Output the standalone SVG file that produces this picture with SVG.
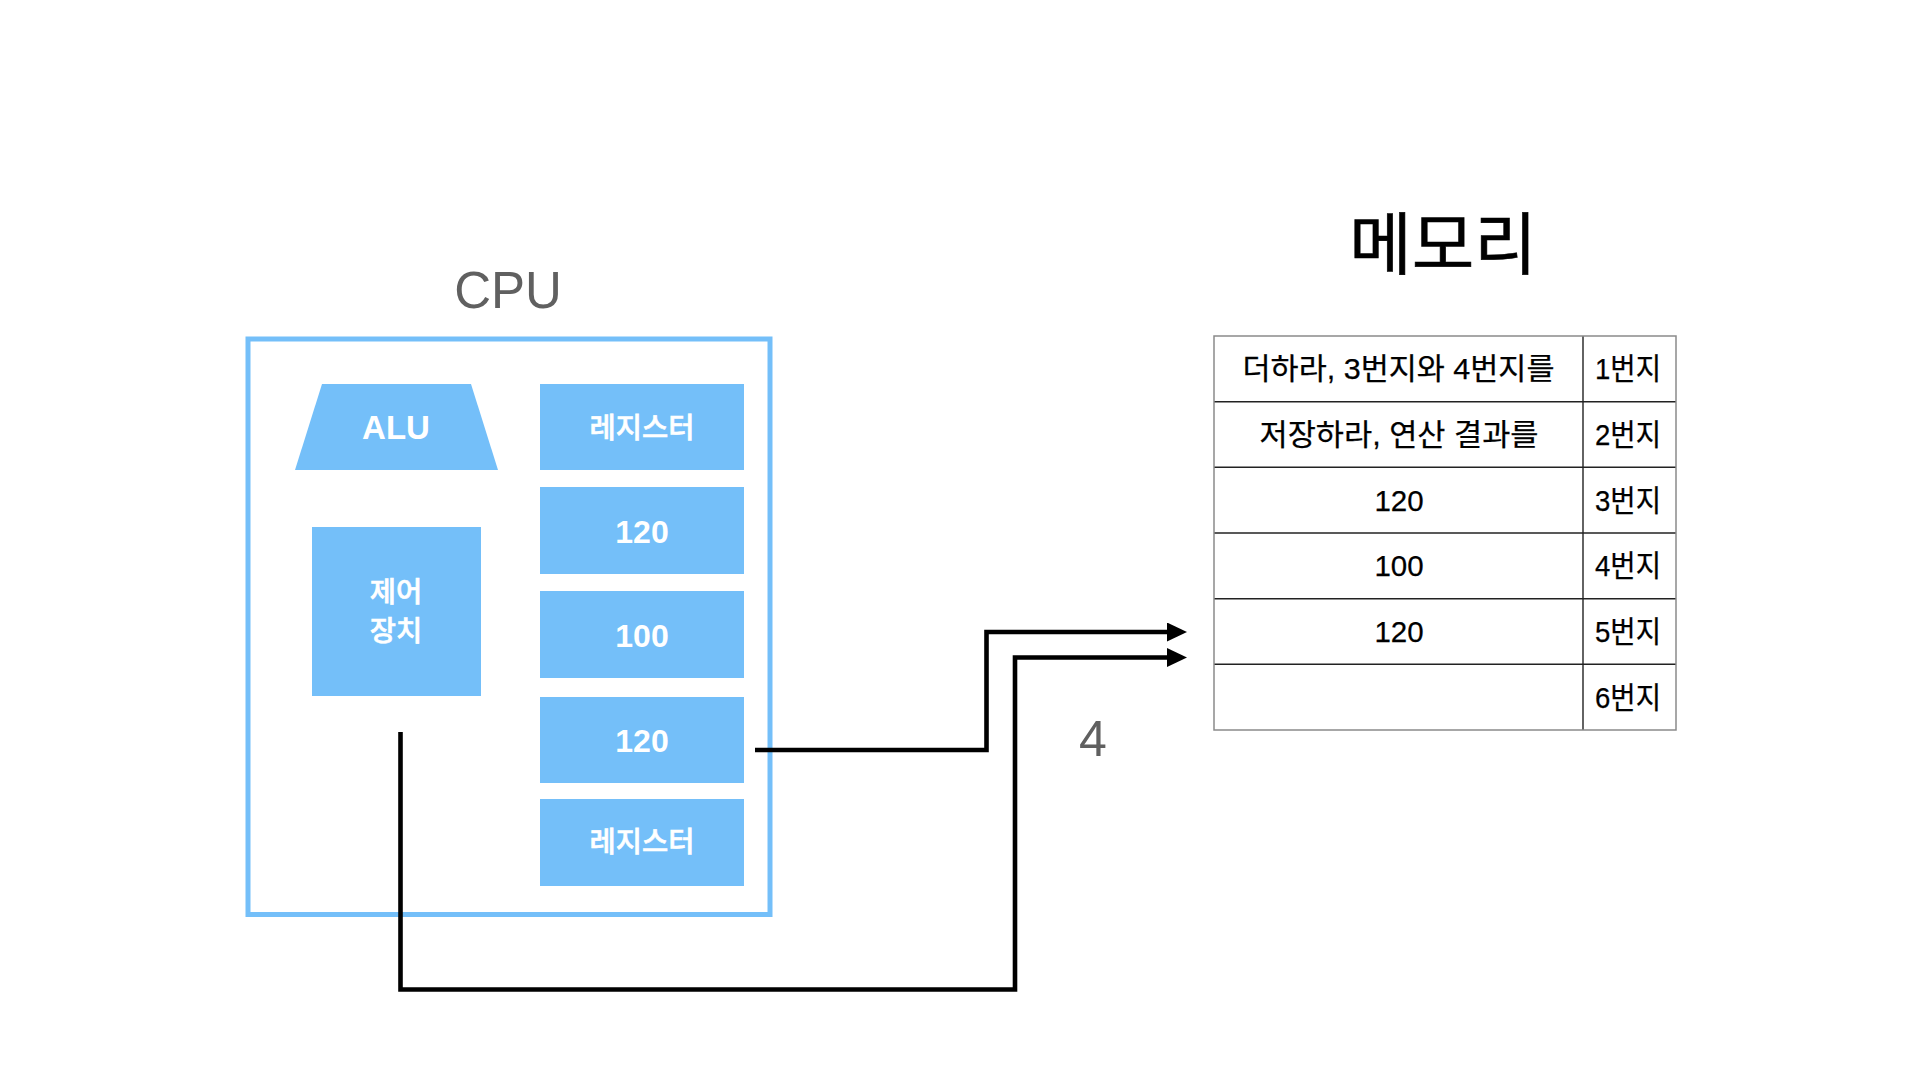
<svg xmlns="http://www.w3.org/2000/svg" width="1920" height="1080" viewBox="0 0 1920 1080">
  <defs>
    <marker id="arrow" viewBox="0 0 20 19" refX="8" refY="9.5" markerWidth="20" markerHeight="19" markerUnits="userSpaceOnUse" orient="auto">
      <path d="M0,0 L20,9.5 L0,19 Z" fill="#000"/>
    </marker>
    <style>
      .blue { fill: #74BFF9; }
      .wt { fill: #fff; font-family: "Liberation Sans", "Noto Sans CJK KR", sans-serif; text-anchor: middle; }
      .en { font-weight: bold; }
      .ko { font-size: 28.5px; font-weight: 500; stroke: #fff; stroke-width: 0.6px; }
      .num { font-size: 32px; font-weight: bold; }
      .tt { fill: #000; font-family: "Liberation Sans", "Noto Sans CJK KR", sans-serif; font-size: 29.5px; text-anchor: middle; stroke: #000; stroke-width: 0.25px; }
      .gray { fill: #606060; font-family: "Liberation Sans", "Noto Sans CJK KR", sans-serif; text-anchor: middle; }
      .conn { fill: none; stroke: #000; stroke-width: 4.6; stroke-linejoin: miter; }
      .inner { stroke: #222; stroke-width: 1.4; }
    </style>
  </defs>
  <rect width="1920" height="1080" fill="#fff"/>

  <g id="cpu">
    <text class="gray" x="508" y="308" font-size="51">CPU</text>
    <rect x="248" y="339" width="522" height="575.5" fill="none" stroke="#74BFF9" stroke-width="5"/>
  </g>

  <g id="alu">
    <polygon class="blue" points="322,384 471,384 498,470 295,470"/>
    <text class="wt en" x="396" y="439" font-size="33">ALU</text>
  </g>

  <g id="control-unit">
    <rect class="blue" x="312" y="527" width="169" height="169"/>
    <text class="wt ko" x="396" y="602">제어</text>
    <text class="wt ko" x="396" y="641">장치</text>
  </g>

  <g id="register-1">
    <rect class="blue" x="540" y="384" width="204" height="86"/>
    <text class="wt ko" x="642" y="438">레지스터</text>
  </g>
  <g id="register-2">
    <rect class="blue" x="540" y="487" width="204" height="87"/>
    <text class="wt num" x="642" y="543">120</text>
  </g>
  <g id="register-3">
    <rect class="blue" x="540" y="591" width="204" height="87"/>
    <text class="wt num" x="642" y="647">100</text>
  </g>
  <g id="register-4">
    <rect class="blue" x="540" y="697" width="204" height="86"/>
    <text class="wt num" x="642" y="752">120</text>
  </g>
  <g id="register-5">
    <rect class="blue" x="540" y="799" width="204" height="87"/>
    <text class="wt ko" x="642" y="852">레지스터</text>
  </g>

  <g id="memory">
    <text x="1443" y="269" font-family="'Noto Sans CJK KR', sans-serif" font-size="68" text-anchor="middle" fill="#000" stroke="#000" stroke-width="0.6">메모리</text>
    <g id="memory-table">
      <line class="inner" x1="1214" y1="401.7" x2="1676" y2="401.7"/>
      <line class="inner" x1="1214" y1="467.3" x2="1676" y2="467.3"/>
      <line class="inner" x1="1214" y1="533" x2="1676" y2="533"/>
      <line class="inner" x1="1214" y1="598.7" x2="1676" y2="598.7"/>
      <line class="inner" x1="1214" y1="664.3" x2="1676" y2="664.3"/>
      <line class="inner" x1="1583" y1="336" x2="1583" y2="730"/>
      <rect x="1214" y="336" width="462" height="394" fill="none" stroke="#8a8a8a" stroke-width="1.5"/>
    </g>
    <g id="cell-1">
      <text class="tt" x="1398.5" y="379.3" textLength="312" lengthAdjust="spacingAndGlyphs">더하라, 3번지와 4번지를</text>
      <text class="tt" x="1628" y="379.3" textLength="66" lengthAdjust="spacingAndGlyphs">1번지</text>
    </g>
    <g id="cell-2">
      <text class="tt" x="1399" y="445" textLength="279" lengthAdjust="spacingAndGlyphs">저장하라, 연산 결과를</text>
      <text class="tt" x="1628" y="445" textLength="66" lengthAdjust="spacingAndGlyphs">2번지</text>
    </g>
    <g id="cell-3">
      <text class="tt" x="1399" y="510.7">120</text>
      <text class="tt" x="1628" y="510.7" textLength="66" lengthAdjust="spacingAndGlyphs">3번지</text>
    </g>
    <g id="cell-4">
      <text class="tt" x="1399" y="576.3">100</text>
      <text class="tt" x="1628" y="576.3" textLength="66" lengthAdjust="spacingAndGlyphs">4번지</text>
    </g>
    <g id="cell-5">
      <text class="tt" x="1399" y="642">120</text>
      <text class="tt" x="1628" y="642" textLength="66" lengthAdjust="spacingAndGlyphs">5번지</text>
    </g>
    <g id="cell-6">
      <text class="tt" x="1628" y="707.7" textLength="66" lengthAdjust="spacingAndGlyphs">6번지</text>
    </g>
  </g>

  <g id="connectors">
    <path class="conn" d="M755,750 H986.5 V632 H1175" marker-end="url(#arrow)"/>
    <path class="conn" d="M400.5,732 V989.5 H1015 V657.5 H1175" marker-end="url(#arrow)"/>
    <text class="gray" x="1093" y="756" font-size="50">4</text>
  </g>
</svg>
